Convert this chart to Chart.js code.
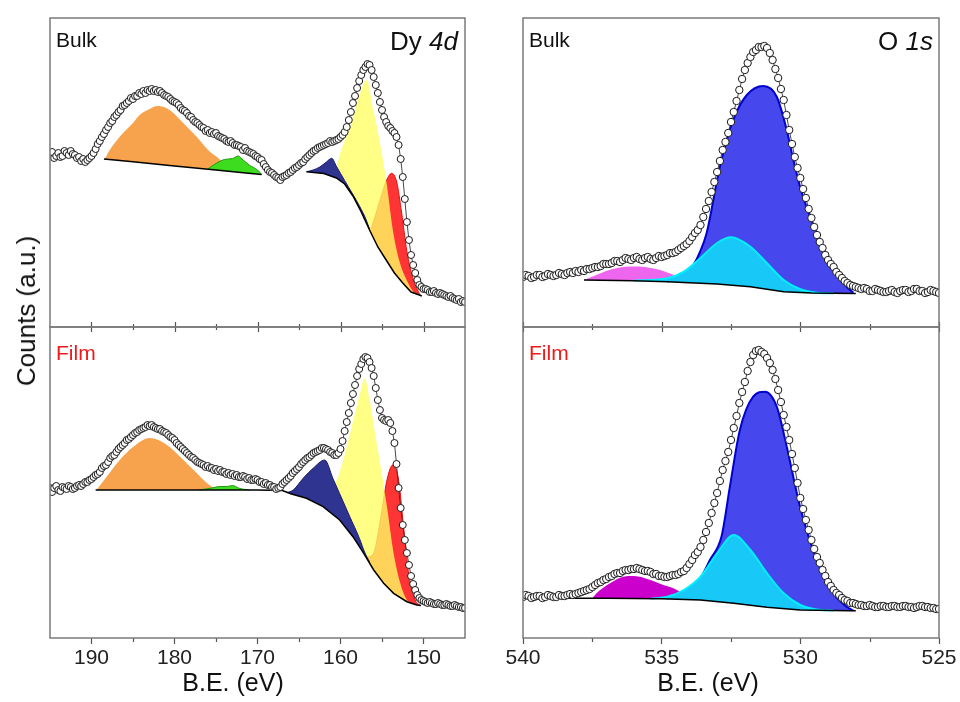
<!DOCTYPE html>
<html><head><meta charset="utf-8">
<script src="https://cdn.jsdelivr.net/npm/chart.js@4.4.1/dist/chart.umd.min.js"></script>
<style>
html,body{margin:0;padding:0;background:#fff;}
body{width:960px;height:702px;position:relative;overflow:hidden;font-family:"Liberation Sans",Arial,sans-serif;}
canvas{position:absolute;}
.lbl{position:absolute;line-height:1;white-space:nowrap;color:#111;}
</style></head><body>
<canvas id="dyBulk" width="455" height="329" style="left:30px;top:8px"></canvas>
<canvas id="dyFilm" width="455" height="376" style="left:30px;top:317px"></canvas>
<canvas id="oBulk" width="456" height="329" style="left:503px;top:8px"></canvas>
<canvas id="oFilm" width="456" height="376" style="left:503px;top:317px"></canvas>

<div class="lbl" style="left:56px;top:29px;font-size:21px">Bulk</div>
<div class="lbl" style="right:502px;top:28px;font-size:26px">Dy <i>4d</i></div>
<div class="lbl" style="left:529px;top:29px;font-size:21px">Bulk</div>
<div class="lbl" style="right:27px;top:28px;font-size:26px">O <i>1s</i></div>
<div class="lbl" style="left:56px;top:342px;font-size:21px;color:#f01818">Film</div>
<div class="lbl" style="left:529px;top:342px;font-size:21px;color:#f01818">Film</div>
<div class="lbl" style="left:233px;top:670px;font-size:25px;transform:translateX(-50%)">B.E. (eV)</div>
<div class="lbl" style="left:708px;top:670px;font-size:25px;transform:translateX(-50%)">B.E. (eV)</div>
<div class="lbl" style="left:26px;top:311px;font-size:26px;transform:translate(-50%,-50%) rotate(-90deg)">Counts (a.u.)</div>

<script>
// ---------- tick labels ----------
const dyTicks = [190, 180, 170, 160, 150];
const dyMinorTicks = [185, 175, 165, 155];
const oTicks = [540, 535, 530, 525];
const oMinorTicks = [537.5, 532.5, 527.5];

// ---------- Dy 4d measured spectra [B.E. (eV), counts (a.u.)] ----------
const dyBulkData = [[195,172],[194.75,175],[194.5,169],[194.25,171],[194,174],[193.75,170],[193.5,171],[193.25,176],[193,174],[192.75,172],
[192.5,176],[192.25,173],[192,172],[191.75,169],[191.5,170],[191.25,166],[191,168],[190.75,165],[190.5,167],[190.25,169],
[190,171],[189.75,174],[189.5,178],[189.25,183],[189,186],[188.75,190],[188.5,193],[188.25,197],[188,200],[187.75,204],
[187.5,206],[187.25,210],[187,212],[186.75,215],[186.5,217],[186.25,221],[186,222],[185.75,224],[185.5,226],[185.25,229],
[185,228],[184.75,231],[184.5,231],[184.25,234],[184,233],[183.75,236],[183.5,234],[183.25,237],[183,236],[182.75,238],
[182.5,236],[182.25,237],[182,235],[181.75,236],[181.5,234],[181.25,232],[181,231],[180.75,230],[180.5,228],[180.25,226],
[180,225],[179.75,224],[179.5,222],[179.25,219],[179,217],[178.75,216],[178.5,214],[178.25,211],[178,210],[177.75,207],
[177.5,205],[177.25,204],[177,202],[176.75,200],[176.5,199],[176.25,196],[176,197],[175.75,194],[175.5,195],[175.25,193],
[175,194],[174.75,191],[174.5,190],[174.25,189],[174,188],[173.75,186],[173.5,185],[173.25,186],[173,184],[172.75,182],
[172.5,182],[172.25,181],[172,180],[171.75,177],[171.5,179],[171.25,176],[171,175],[170.75,174],[170.5,173],[170.25,171],
[170,170],[169.75,168],[169.5,167],[169.25,163],[169,160],[168.75,157],[168.5,155],[168.25,154],[168,152],[167.75,150],
[167.5,149],[167.25,147],[167,150],[166.75,151],[166.5,152],[166.25,154],[166,155],[165.75,157],[165.5,159],[165.25,160],
[165,162],[164.75,164],[164.5,165],[164.25,168],[164,170],[163.75,172],[163.5,174],[163.25,176],[163,177],[162.75,179],
[162.5,180],[162.25,181],[162,182],[161.75,183],[161.5,184],[161.25,186],[161,185],[160.75,186],[160.5,187],[160.25,188],
[160,190],[159.75,192],[159.5,195],[159.25,200],[159,207],[158.75,215],[158.5,224],[158.25,231],[158,239],[157.75,246],
[157.5,252],[157.25,257],[157,260],[156.75,263],[156.5,262],[156.25,257],[156,250],[155.75,242],[155.5,234],[155.25,225],
[155,217],[154.75,210],[154.5,205],[154.25,201],[154,199],[153.75,196],[153.5,194],[153.25,190],[153,182],[152.75,168],
[152.5,150],[152.25,128],[152,105],[151.75,87],[151.5,72],[151.25,62],[151,54],[150.75,47],[150.5,42],[150.25,40],
[150,38],[149.75,38],[149.5,37],[149.25,35],[149,35],[148.75,36],[148.5,34],[148.25,33],[148,34],[147.75,33],
[147.5,32],[147.25,31],[147,30],[146.75,31],[146.5,29],[146.25,28],[146,27],[145.75,28],[145.5,25],[145.25,26],[145,25]];

const dyFilmData = [[195,150],[194.75,146],[194.5,150],[194.25,152],[194,148],[193.75,147],[193.5,151],[193.25,150],[193,149],[192.75,152],
[192.5,151],[192.25,149],[192,150],[191.75,152],[191.5,153],[191.25,152],[191,154],[190.75,156],[190.5,156],[190.25,158],
[190,159],[189.75,161],[189.5,163],[189.25,164],[189,166],[188.75,170],[188.5,172],[188.25,173],[188,176],[187.75,180],
[187.5,182],[187.25,183],[187,186],[186.75,189],[186.5,191],[186.25,193],[186,195],[185.75,198],[185.5,199],[185.25,201],
[185,203],[184.75,205],[184.5,206],[184.25,208],[184,209],[183.75,210],[183.5,211],[183.25,213],[183,212],[182.75,213],
[182.5,211],[182.25,210],[182,209],[181.75,209],[181.5,207],[181.25,206],[181,205],[180.75,203],[180.5,201],[180.25,200],
[180,198],[179.75,195],[179.5,193],[179.25,191],[179,189],[178.75,187],[178.5,185],[178.25,183],[178,181],[177.75,180],
[177.5,178],[177.25,176],[177,175],[176.75,174],[176.5,173],[176.25,171],[176,172],[175.75,170],[175.5,170],[175.25,168],
[175,169],[174.75,167],[174.5,168],[174.25,166],[174,166],[173.75,164],[173.5,165],[173.25,163],[173,164],[172.75,162],
[172.5,163],[172.25,161],[172,161],[171.75,162],[171.5,161],[171.25,159],[171,160],[170.75,158],[170.5,158],[170.25,159],
[170,158],[169.75,156],[169.5,156],[169.25,154],[169,155],[168.75,153],[168.5,153],[168.25,151],[168,151],[167.75,149],
[167.5,150],[167.25,151],[167,154],[166.75,156],[166.5,158],[166.25,160],[166,162],[165.75,165],[165.5,167],[165.25,169],
[165,171],[164.75,174],[164.5,176],[164.25,178],[164,180],[163.75,181],[163.5,183],[163.25,185],[163,186],[162.75,187],
[162.5,188],[162.25,190],[162,190],[161.75,189],[161.5,188],[161.25,186],[161,185],[160.75,183],[160.5,183],[160.25,185],
[160,189],[159.75,197],[159.5,207],[159.25,216],[159,225],[158.75,235],[158.5,244],[158.25,253],[158,262],[157.75,269],
[157.5,274],[157.25,279],[157,281],[156.75,280],[156.5,276],[156.25,270],[156,262],[155.75,250],[155.5,238],[155.25,228],
[155,220],[154.75,218],[154.5,217],[154.25,218],[154,215],[153.75,207],[153.5,195],[153.25,174],[153,150],[152.75,130],
[152.5,113],[152.25,98],[152,85],[151.75,73],[151.5,62],[151.25,54],[151,48],[150.75,43],[150.5,40],[150.25,38],
[150,37],[149.75,36],[149.5,35],[149.25,36],[149,35],[148.75,34],[148.5,34],[148.25,35],[148,34],[147.75,33],
[147.5,33],[147.25,34],[147,33],[146.75,32],[146.5,32],[146.25,33],[146,32],[145.75,31],[145.5,31],[145.25,30],[145,30]];

// Dy 4d fit: backgrounds and component envelopes [B.E., counts]
const dyBulkBgSat = [[188.5,168],[185,165.2],[180,161.1],[175,157],[172,154.6],[169.5,152.5]];
const dyBulkBgMain = [[164.1,155.3],[162,153.5],[160.5,149],[159.5,143],[158.5,131],[157.5,115],[156.5,97],[155.5,80],[154.5,67],[153.5,54],[152.5,44],[151.5,35],[150.5,32],[150.2,31]];
const dyBulkOrange = [[188.4,168],[187.8,177],[187,186],[186.2,194],[185,204],[184.2,212],[183,218],[182.1,221],[181,219],[180,213],[179.3,207],[178,196],[177.3,190],[176.5,182],[175.7,175],[174.5,167],[174,161],[173.5,156]];
const dyBulkGreen = [[176,158],[175,163.5],[174,167.5],[173,168.5],[172.3,171],[172,169],[171,162],[170,157],[169.5,152.5]];
const dyBulkNavy = [[164.1,155.3],[163.3,157],[162.5,160],[161.7,165],[161.06,168.7],[160.5,160.8],[160,153.6],[159.5,146.5],[159,139.5],[158.5,132.5],[157.65,120],[157,109],[156.5,98]];
const dyBulkYellow = [[160.66,149.5],[160.26,167],[158.86,200],[157.65,233.7],[156.85,247],[156.04,217],[155.24,183.7],[154.44,143.7],[153.63,93.7],[152.83,63.7],[152.03,47],[151.22,35.3],[150.8,33]];
const dyBulkRed = [[156.45,96],[156.04,105],[155.24,127],[154.44,147],[153.84,153.7],[153.23,145],[152.63,114],[152.03,77],[151.22,47],[150.42,32]];

const dyFilmBg = [[189.5,148],[180,148],[170,148],[167,147.5],[166,144.2],[164.1,139.7],[162.1,131.3],[160.1,118],[158.5,101.3],[157.2,84.7],[156,68],[154.8,54.7],[153.6,44.7],[152,36.3],[150.8,33],[150.3,32.5]];
const dyFilmOrange = [[189.4,148],[188.2,161],[186.6,178],[185,191],[183,200],[180.9,193],[179.3,181],[177.7,168],[176.1,155],[174.9,148]];
const dyFilmGreen = [[177,148],[175.5,150],[174.5,151.5],[173.7,151.5],[173,152.5],[172.3,150],[171.5,148.5],[171,148]];
const dyFilmNavy = [[166.5,145.3],[165.7,148],[164.5,159.7],[163.3,169.7],[161.9,178],[160.9,159.3],[160.1,144.3],[158.9,121.7],[157.7,99.3],[157.1,86],[156.5,76]];
const dyFilmYellow = [[161.7,129],[160.9,150],[160.1,166],[158.9,203],[157.7,243],[157.1,259.7],[156.5,238],[155.7,198],[155.1,168],[154.4,131.3],[153.6,84.7],[152.8,54.7],[152,38],[151.2,34]];
const dyFilmRed = [[156.9,80.5],[156,85],[155.2,118],[154.4,158],[153.7,173],[153,158],[152.4,111],[151.8,64.7],[151,38],[150.4,32.5]];

// ---------- O 1s measured spectra [B.E. (eV), counts (a.u.)] ----------
const oBulkData = [[540,50],[539.9,52],[539.8,51],[539.7,49],[539.6,50],[539.5,52],[539.4,52],[539.3,50],[539.2,51],[539.1,53],
[539,52],[538.9,51],[538.8,52],[538.7,54],[538.6,53],[538.5,52],[538.4,54],[538.3,55],[538.2,54],[538.1,56],
[538,55],[537.9,57],[537.8,56],[537.7,58],[537.6,58],[537.5,59],[537.4,60],[537.3,60],[537.2,61],[537.1,63],
[537,63],[536.9,63],[536.8,64],[536.7,66],[536.6,66],[536.5,65],[536.4,67],[536.3,69],[536.2,68],[536.1,67],
[536,69],[535.9,70],[535.8,68],[535.7,67],[535.6,69],[535.5,70],[535.4,68],[535.3,67],[535.2,69],[535.1,71],
[535,70],[534.9,71],[534.8,72],[534.7,74],[534.6,74],[534.5,75],[534.4,77],[534.3,79],[534.2,81],[534.1,83],
[534,86],[533.9,90],[533.8,94],[533.7,97],[533.6,102],[533.5,110],[533.4,118],[533.3,126],[533.2,135],[533.1,145],
[533,155],[532.9,166],[532.8,177],[532.7,185],[532.6,194],[532.5,205],[532.4,215],[532.3,226],[532.2,237],[532.1,248],
[532,257],[531.9,264],[531.8,270],[531.7,275],[531.6,277],[531.5,280],[531.4,280],[531.3,281],[531.2,279],[531.1,274],
[531,267],[530.9,258],[530.8,249],[530.7,238],[530.6,227],[530.5,212],[530.4,197],[530.3,183],[530.2,170],[530.1,159],
[530,149],[529.9,138],[529.8,129],[529.7,118],[529.6,109],[529.5,100],[529.4,92],[529.3,85],[529.2,79],[529.1,72],
[529,67],[528.9,63],[528.8,60],[528.7,55],[528.6,52],[528.5,49],[528.4,46],[528.3,44],[528.2,42],[528.1,41],
[528,40],[527.9,39],[527.8,38],[527.7,39],[527.6,38],[527.5,36],[527.4,36],[527.3,38],[527.2,37],[527.1,36],
[527,35],[526.9,35],[526.8,36],[526.7,37],[526.6,35],[526.5,34],[526.4,36],[526.3,37],[526.2,37],[526.1,35],
[526,36],[525.9,38],[525.8,38],[525.7,36],[525.6,36],[525.5,34],[525.4,35],[525.3,37],[525.2,36],[525.1,35],[525,34]];

const oFilmData = [[540,41],[539.9,43],[539.8,42],[539.7,40],[539.6,41],[539.5,42],[539.4,42],[539.3,40],[539.2,41],[539.1,43],
[539,42],[538.9,41],[538.8,41],[538.7,43],[538.6,42],[538.5,42],[538.4,43],[538.3,44],[538.2,43],[538.1,44],
[538,45],[537.9,46],[537.8,47],[537.7,48],[537.6,49],[537.5,51],[537.4,53],[537.3,55],[537.2,56],[537.1,58],
[537,59],[536.9,61],[536.8,62],[536.7,64],[536.6,65],[536.5,65],[536.4,67],[536.3,68],[536.2,68],[536.1,69],
[536,69],[535.9,70],[535.8,69],[535.7,68],[535.6,67],[535.5,67],[535.4,66],[535.3,64],[535.2,64],[535.1,62],
[535,62],[534.9,61],[534.8,61],[534.7,62],[534.6,63],[534.5,63],[534.4,64],[534.3,66],[534.2,67],[534.1,70],
[534,74],[533.9,78],[533.8,83],[533.7,86],[533.6,91],[533.5,98],[533.4,106],[533.3,115],[533.2,125],[533.1,135],
[533,145],[532.9,157],[532.8,168],[532.7,177],[532.6,186],[532.5,198],[532.4,210],[532.3,222],[532.2,235],[532.1,246],
[532,256],[531.9,267],[531.8,276],[531.7,283],[531.6,287],[531.5,288],[531.4,286],[531.3,284],[531.2,280],[531.1,275],
[531,268],[530.9,259],[530.8,248],[530.7,236],[530.6,223],[530.5,211],[530.4,198],[530.3,184],[530.2,170],[530.1,155],
[530,140],[529.9,129],[529.8,118],[529.7,108],[529.6,98],[529.5,89],[529.4,81],[529.3,75],[529.2,68],[529.1,62],
[529,56],[528.9,52],[528.8,48],[528.7,45],[528.6,43],[528.5,40],[528.4,38],[528.3,37],[528.2,35],[528.1,35],
[528,34],[527.9,33],[527.8,33],[527.7,32],[527.6,32],[527.5,33],[527.4,32],[527.3,31],[527.2,31],[527.1,32],
[527,32],[526.9,31],[526.8,31],[526.7,32],[526.6,32],[526.5,31],[526.4,31],[526.3,32],[526.2,32],[526.1,31],
[526,31],[525.9,30],[525.8,31],[525.7,32],[525.6,32],[525.5,31],[525.4,31],[525.3,30],[525.2,30],[525.1,29],[525,29]];

// O 1s fit: backgrounds and component envelopes [B.E., counts]
const oBulkBg = [[537.8,47],[536,46.3],[534.8,45.3],[533,43],[531.8,40.3],[530.6,35.3],[529.6,34],[528.8,33.7],[528,33.6]];
const oBulkMagenta = [[537.8,47],[537.4,51.5],[537,56],[536.6,59],[536.2,60.5],[535.8,60.5],[535.4,59],[535,56.5],[534.6,52.5],[534.2,48.5],[533.8,45.5],[533.4,43.5]];
const oBulkCyan = [[536,46.3],[534.8,48.7],[534.2,55.3],[533.6,69],[533,84],[532.5,89.7],[531.8,80.3],[531.2,63.7],[530.6,47],[530,37.7],[529.4,34.3],[528.8,33.7]];
const oBulkBlue = [[534.8,45.5],[534.34,50],[533.86,62],[533.62,75],[533.38,93.7],[532.9,160.3],[532.42,207],[531.93,232],[531.33,241],[530.85,230.3],[530.49,197],[530.25,167],[530.01,140.3],[529.65,110.3],[529.29,87],[528.81,57],[528.33,40.3],[528.09,34.3]];

const oFilmBg = [[539.9,39.7],[537,39.7],[535,39.3],[533.6,38],[532.4,34.7],[531.2,30.7],[530,28],[528.2,27.3],[528,27.3]];
const oFilmMagenta = [[537.5,39.7],[537.35,44.7],[536.86,54.7],[536.38,61.3],[536,62],[535.4,58],[534.94,53],[534.58,49.7],[534.2,44],[533.8,40.5],[533.5,38]];
const oFilmCyan = [[535.4,39.3],[534.8,41.3],[534.2,48],[533.6,61.3],[533,84.7],[532.4,103],[531.8,88],[531.2,64.7],[530.6,44.7],[530,33],[529.4,28.5],[528.8,27.5]];
const oFilmBlue = [[534.8,39.5],[534.2,45],[533.6,60],[533.26,78],[532.84,101.7],[532.54,151.3],[532.18,208],[531.7,241.3],[531.27,246.3],[530.85,231.3],[530.49,191.3],[530.01,131.3],[529.41,78],[528.81,44.7],[528.33,31.3],[528.09,27.3]];

// ---------- helpers ----------
const FONT = '"Liberation Sans", Arial, sans-serif';
const pts = arr => arr.map(([x, y]) => ({x, y}));

const circles = (arr, r) => ({data: pts(arr), showLine: true, borderColor: '#333', borderWidth: 0.9, fill: false,
  pointRadius: r, pointBorderWidth: 1, pointBorderColor: '#1a1a1a', pointBackgroundColor: '#ffffff', pointHoverRadius: r});
const bgLine = arr => ({data: pts(arr), showLine: true, pointRadius: 0, borderColor: '#000', borderWidth: 1.5, fill: false});
const comp = (arr, target, color, edge, w) => ({data: pts(arr), showLine: true, pointRadius: 0,
  borderColor: edge || 'rgba(0,0,0,0)', borderWidth: w || 0, cubicInterpolationMode: 'monotone',
  fill: {target, above: color, below: 'rgba(0,0,0,0)'}});

const framePlugin = {
  id: 'frameTicks',
  afterDraw(chart, args, o) {
    const {ctx, chartArea: a} = chart;
    const x = chart.scales.x;
    ctx.save();
    ctx.strokeStyle = '#555'; ctx.lineWidth = 1.2;
    const draw = (vals, y0, y1) => vals.forEach(v => {
      const px = Math.round(x.getPixelForValue(v)) + 0.5;
      ctx.beginPath(); ctx.moveTo(px, y0); ctx.lineTo(px, y1); ctx.stroke();
    });
    if (o.minorOut) draw(o.minor, a.bottom, a.bottom + 4);
    if (o.topIn) { draw(o.major, a.top, a.top + 5); draw(o.minor, a.top, a.top + 3); }
    if (o.bottomIn) { draw(o.major, a.bottom, a.bottom - 5); draw(o.minor, a.bottom, a.bottom - 3); }
    ctx.strokeStyle = '#7a7a7a'; ctx.lineWidth = 1.5;
    ctx.strokeRect(a.left, a.top, a.right - a.left, a.bottom - a.top);
    ctx.restore();
  }
};

function make(id, datasets, xmin, xmax, ymax, major, minor, bottom) {
  const xScale = {type: 'linear', reverse: true, min: xmin, max: xmax, display: bottom,
    afterBuildTicks: s => { s.ticks = major.map(v => ({value: v})); },
    afterFit: s => { if (bottom) s.height = 50; },
    ticks: {color: '#222', font: {family: FONT, size: 21}, padding: 2, autoSkip: false, maxRotation: 0,
      callback: v => String(v)},
    grid: {display: true, drawOnChartArea: false, drawTicks: true, tickLength: 6, tickColor: '#555', tickWidth: 1.2},
    border: {display: false}};
  return new Chart(document.getElementById(id), {
    type: 'scatter',
    data: {datasets},
    options: {
      responsive: false, animation: false, events: [],
      layout: {padding: {left: 20, right: 20, top: 10, bottom: bottom ? 5 : 10}},
      scales: {x: xScale, y: {display: false, min: 0, max: ymax}},
      plugins: {legend: {display: false}, tooltip: {enabled: false},
        frameTicks: {major, minor, minorOut: bottom, topIn: bottom, bottomIn: !bottom}}
    },
    plugins: [framePlugin]
  });
}

// Dy 4d bulk
make('dyBulk', [
  circles(dyBulkData, 3.5),
  bgLine(dyBulkBgSat),
  bgLine(dyBulkBgMain),
  comp(dyBulkNavy, 2, '#2f3490', '#1c1f6e', 1),
  comp(dyBulkYellow, 2, 'rgba(255,255,100,0.78)'),
  comp(dyBulkRed, 2, '#ff3535', '#e01010', 1),
  comp(dyBulkGreen, 1, '#3ddc1e', '#1f9a10', 1),
  comp(dyBulkOrange, 1, '#f7a24c')
], 145, 195, 309, dyTicks, dyMinorTicks, false);

// Dy 4d film
make('dyFilm', [
  circles(dyFilmData, 3.5),
  bgLine(dyFilmBg),
  comp(dyFilmNavy, 1, '#2f3490', '#1c1f6e', 1),
  comp(dyFilmYellow, 1, 'rgba(255,255,100,0.78)'),
  comp(dyFilmRed, 1, '#ff3535', '#e01010', 1),
  comp(dyFilmGreen, 1, '#3ddc1e', '#1f9a10', 1),
  comp(dyFilmOrange, 1, '#f7a24c')
], 145, 195, 311, dyTicks, dyMinorTicks, true);

// O 1s bulk
make('oBulk', [
  circles(oBulkData, 3.7),
  bgLine(oBulkBg),
  comp(oBulkCyan, 1, '#18c8f6', '#00f0ff', 2),
  comp(oBulkMagenta, 1, '#ee66ee'),
  comp(oBulkBlue, 1, '#4747ee', '#0000d0', 2)
], 525, 540, 309, oTicks, oMinorTicks, false);

// O 1s film
make('oFilm', [
  circles(oFilmData, 3.7),
  bgLine(oFilmBg),
  comp(oFilmCyan, 1, '#18c8f6', '#00f0ff', 2),
  comp(oFilmMagenta, 1, '#cc00cc'),
  comp(oFilmBlue, 1, '#4747ee', '#0000d0', 2)
], 525, 540, 311, oTicks, oMinorTicks, true);
</script>
</body></html>
